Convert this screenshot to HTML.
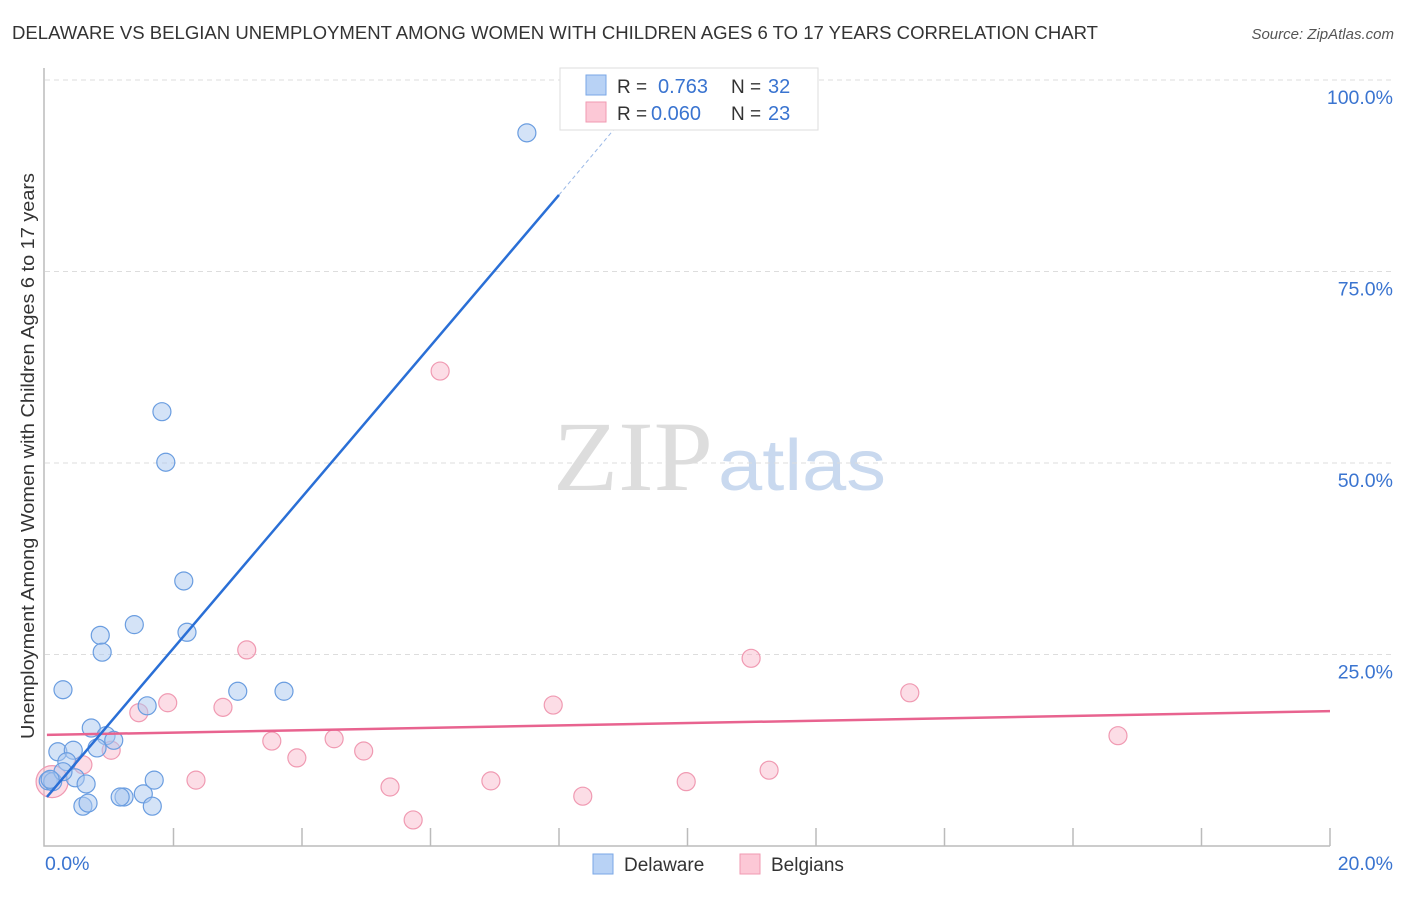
<!DOCTYPE html>
<html><head><meta charset="utf-8"><style>
body{margin:0;background:#fff;}
</style></head><body>
<svg id="chart" width="1406" height="892" viewBox="0 0 1406 892" xmlns="http://www.w3.org/2000/svg" font-family="Liberation Sans, sans-serif">
<text x="12" y="39" font-size="18" fill="#333" textLength="1086" lengthAdjust="spacingAndGlyphs">DELAWARE VS BELGIAN UNEMPLOYMENT AMONG WOMEN WITH CHILDREN AGES 6 TO 17 YEARS CORRELATION CHART</text>
<text x="1394" y="39" font-size="15" fill="#555" font-style="italic" text-anchor="end">Source: ZipAtlas.com</text>
<g>
<text x="553" y="490" font-size="100" fill="#ddd" style="font-family:'Liberation Serif',serif" textLength="160" lengthAdjust="spacingAndGlyphs">ZIP</text>
<text x="718" y="490" font-size="72" fill="#c9d9ef" textLength="168" lengthAdjust="spacingAndGlyphs">atlas</text>
</g>
<g id="grid"></g>
<g id="axes"></g>
<g id="marks"></g>
<text transform="translate(34,456) rotate(-90)" font-size="18" fill="#333" text-anchor="middle" textLength="566" lengthAdjust="spacingAndGlyphs">Unemployment Among Women with Children Ages 6 to 17 years</text>
<g>
<rect x="560" y="68" width="258" height="62" fill="#fff" stroke="#ddd"/>
<rect x="586" y="75" width="20" height="20" fill="#b8d2f5" stroke="#7aa7e6"/>
<rect x="586" y="102" width="20" height="20" fill="#fcc8d6" stroke="#f09ab2"/>
<text x="617" y="93" font-size="19" fill="#333">R = </text><text x="658" y="93" font-size="20" fill="#3a74d0">0.763</text>
<text x="731" y="93" font-size="19" fill="#333">N = </text><text x="768" y="93" font-size="20" fill="#3a74d0">32</text>
<text x="617" y="120" font-size="19" fill="#333">R = </text><text x="651" y="120" font-size="20" fill="#3a74d0">0.060</text>
<text x="731" y="120" font-size="19" fill="#333">N = </text><text x="768" y="120" font-size="20" fill="#3a74d0">23</text>
</g>
<g>
<rect x="593" y="854" width="20" height="20" fill="#b8d2f5" stroke="#7aa7e6"/>
<text x="624" y="871" font-size="19" fill="#333">Delaware</text>
<rect x="740" y="854" width="20" height="20" fill="#fcc8d6" stroke="#f09ab2"/>
<text x="771" y="871" font-size="19" fill="#333">Belgians</text>
</g>
</svg>
<script>
const yTicks=[25,50,75,100];
const yTickLabels=["25.0%","50.0%","75.0%","100.0%"];
const xTickLabels=["0.0%","20.0%"];
const delX=[7.50,1.82,1.88,2.16,2.21,1.39,0.86,0.89,0.28,1.59,3.00,3.72,0.72,0.95,1.07,0.81,0.20,0.44,0.34,0.47,0.64,0.05,0.12,1.23,1.17,1.53,1.70,1.67,0.59,0.67,0.28,0.08];
const delY=[93.1,56.7,50.1,34.6,27.9,28.9,27.5,25.3,20.4,18.3,20.2,20.2,15.4,14.4,13.8,12.8,12.3,12.5,11.0,8.9,8.1,8.5,8.4,6.4,6.4,6.8,8.6,5.2,5.2,5.6,9.7,8.7];
const belX=[6.15,3.14,10.99,13.46,7.91,1.91,1.46,2.77,3.53,4.50,4.96,3.92,16.70,1.03,0.59,2.35,6.94,9.98,11.27,5.37,8.37,5.73,0.11];
const belY=[62.0,25.6,24.5,20.0,18.4,18.7,17.4,18.1,13.7,14.0,12.4,11.5,14.4,12.5,10.6,8.6,8.5,8.4,9.9,7.7,6.5,3.4,8.4];
const delTrend=[[0.03,6.4],[8.0,85.0]];
const delTrendDash=[[8.0,85.0],[9.3,98.0]];
const belTrend=[[0.03,14.5],[20,17.6]];
const NS="http://www.w3.org/2000/svg";
const sx=v=>45+v*64.25, sy=v=>846-v*7.66;
function mk(tag,attrs,parent){const e=document.createElementNS(NS,tag);for(const k in attrs)e.setAttribute(k,attrs[k]);parent.appendChild(e);return e;}
const grid=document.getElementById('grid'),axes=document.getElementById('axes'),marks=document.getElementById('marks');
yTicks.forEach((t,i)=>{
 const l=mk('line',{x1:45,x2:1393,y1:sy(t),y2:sy(t),stroke:'#ddd','stroke-dasharray':'5,4'},grid);
 
 
 const tx=mk('text',{x:1393,y:sy(t)+24,'font-size':19.5,fill:'#3a74d0','text-anchor':'end'},grid);
 tx.textContent=yTickLabels[i];
 
 
});
const ax=mk('path',{d:'M44 68 V846 H1330',stroke:'#bbb',fill:'none','stroke-width':1.5},axes);


for(let i=1;i<=10;i++){
 const t=mk('line',{x1:sx(i*2),x2:sx(i*2),y1:828,y2:846,stroke:'#bbb','stroke-width':1.5},axes);
 
 
}
const xl0=mk('text',{x:45,y:870,'font-size':19.5,fill:'#3a74d0'},axes);xl0.textContent=xTickLabels[0];


const xl1=mk('text',{x:1393,y:870,'font-size':19.5,fill:'#3a74d0','text-anchor':'end'},axes);xl1.textContent=xTickLabels[1];


belX.forEach((x,i)=>{
 const c=mk('circle',{cx:sx(x),cy:sy(belY[i]),r:i==belX.length-1?16:9,fill:'rgba(248,180,200,0.45)',stroke:'#f09ab2','stroke-width':1.2},marks);
 
 
});
delX.forEach((x,i)=>{
 const c=mk('circle',{cx:sx(x),cy:sy(delY[i]),r:9,fill:'rgba(170,200,240,0.5)',stroke:'#6a9de0','stroke-width':1.2},marks);
 
 
});
const bt=mk('line',{x1:sx(belTrend[0][0]),y1:sy(belTrend[0][1]),x2:sx(belTrend[1][0]),y2:sy(belTrend[1][1]),stroke:'#e8638f','stroke-width':2.5},marks);


const dt=mk('line',{x1:sx(delTrend[0][0]),y1:sy(delTrend[0][1]),x2:sx(delTrend[1][0]),y2:sy(delTrend[1][1]),stroke:'#2a6fd6','stroke-width':2.5},marks);


const dd=mk('line',{x1:sx(delTrendDash[0][0]),y1:sy(delTrendDash[0][1]),x2:sx(delTrendDash[1][0]),y2:sy(delTrendDash[1][1]),stroke:'#9ab8e6','stroke-width':1,'stroke-dasharray':'4,3'},marks);


</script>
</body></html>
